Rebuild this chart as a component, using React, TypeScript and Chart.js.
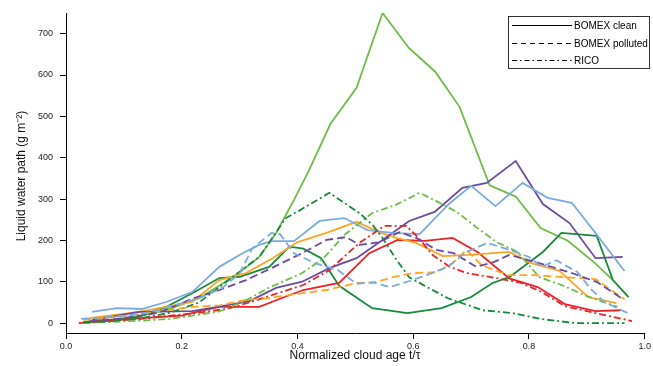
import React, { useEffect, useRef } from "react";
import { Chart, registerables } from "chart.js";

Chart.register(...registerables);

// ---- Data (t = normalized cloud age, v = liquid water path g m^-2) ----
// BOMEX clean (solid)
const T_CLEAN_LGREEN = [0.03, 0.08, 0.13, 0.18, 0.23, 0.27, 0.30, 0.334, 0.363, 0.394, 0.42, 0.457, 0.502, 0.547, 0.592, 0.638, 0.68, 0.732, 0.777, 0.82, 0.867, 0.914, 0.945];
const V_CLEAN_LGREEN = [3, 8, 18, 35, 60, 95, 123, 160, 218, 298, 370, 482, 569, 750, 666, 608, 523, 333, 306, 230, 199, 145, 104];
const T_CLEAN_PURPLE = [0.045, 0.126, 0.218, 0.265, 0.317, 0.363, 0.408, 0.455, 0.502, 0.547, 0.593, 0.637, 0.685, 0.727, 0.777, 0.824, 0.87, 0.915, 0.962];
const V_CLEAN_PURPLE = [7, 27, 29, 40, 53, 85, 100, 133, 157, 201, 247, 269, 327, 339, 392, 288, 242, 157, 160];
const T_CLEAN_LBLUE = [0.045, 0.088, 0.131, 0.173, 0.218, 0.265, 0.305, 0.334, 0.355, 0.394, 0.438, 0.481, 0.521, 0.564, 0.611, 0.663, 0.70, 0.742, 0.789, 0.832, 0.874, 0.912, 0.965];
const V_CLEAN_LBLUE = [27, 36, 34, 51, 75, 136, 169, 189, 198, 198, 247, 254, 225, 218, 215, 290, 332, 283, 339, 303, 291, 223, 126];
const T_CLEAN_DGREEN = [0.03, 0.08, 0.126, 0.173, 0.218, 0.265, 0.30, 0.351, 0.386, 0.41, 0.441, 0.472, 0.529, 0.59, 0.649, 0.70, 0.737, 0.766, 0.824, 0.856, 0.917, 0.945, 0.972];
const V_CLEAN_DGREEN = [2, 8, 15, 39, 72, 109, 112, 136, 185, 180, 157, 90, 36, 24, 36, 63, 97, 111, 172, 218, 211, 104, 63];
const T_CLEAN_ORANGE = [0.04, 0.126, 0.218, 0.265, 0.311, 0.357, 0.40, 0.45, 0.502, 0.541, 0.571, 0.605, 0.651, 0.697, 0.766, 0.804, 0.853, 0.902, 0.951];
const V_CLEAN_ORANGE = [12, 27, 51, 104, 121, 157, 196, 218, 245, 220, 206, 194, 162, 165, 172, 145, 126, 63, 48];
const T_CLEAN_RED = [0.03, 0.08, 0.13, 0.2, 0.235, 0.265, 0.334, 0.372, 0.41, 0.472, 0.524, 0.573, 0.62, 0.668, 0.711, 0.766, 0.815, 0.862, 0.915, 0.958];
const V_CLEAN_RED = [1, 6, 12, 18, 30, 39, 39, 60, 80, 97, 169, 201, 199, 206, 172, 108, 87, 46, 29, 31];

// BOMEX polluted (dashed)
const T_POLL_LBLUE = [0.026, 0.08, 0.13, 0.18, 0.23, 0.27, 0.30, 0.322, 0.355, 0.37, 0.394, 0.43, 0.47, 0.502, 0.53, 0.559, 0.59, 0.623, 0.66, 0.692, 0.728, 0.766, 0.80, 0.822, 0.847, 0.884, 0.905, 0.93, 0.971];
const V_POLL_LBLUE = [10, 15, 22, 40, 60, 85, 120, 181, 218, 215, 169, 145, 128, 95, 99, 87, 100, 116, 136, 172, 194, 177, 160, 136, 152, 123, 85, 51, 24];
const T_POLL_PURPLE = [0.04, 0.1, 0.16, 0.22, 0.265, 0.311, 0.355, 0.408, 0.45, 0.484, 0.507, 0.54, 0.576, 0.605, 0.64, 0.67, 0.709, 0.74, 0.766, 0.81, 0.87, 0.918, 0.962];
const V_POLL_PURPLE = [4, 12, 25, 60, 80, 104, 133, 169, 201, 208, 189, 195, 220, 206, 177, 169, 136, 148, 165, 148, 123, 99, 58];
const T_POLL_ORANGE = [0.03, 0.08, 0.13, 0.18, 0.218, 0.265, 0.311, 0.35, 0.386, 0.45, 0.472, 0.502, 0.53, 0.564, 0.6, 0.64, 0.668, 0.692, 0.718, 0.763, 0.81, 0.86, 0.915, 0.965];
const V_POLL_ORANGE = [8, 14, 22, 32, 39, 43, 56, 60, 68, 80, 87, 97, 97, 111, 121, 123, 145, 177, 140, 116, 116, 111, 106, 58];

// RICO (dash-dot)
const T_RICO_DGREEN = [0.03, 0.08, 0.13, 0.18, 0.23, 0.265, 0.311, 0.334, 0.38, 0.403, 0.455, 0.507, 0.53, 0.547, 0.571, 0.593, 0.62, 0.66, 0.72, 0.772, 0.82, 0.88, 0.965];
const V_RICO_DGREEN = [1, 5, 12, 25, 50, 87, 136, 160, 254, 272, 315, 266, 237, 206, 153, 111, 90, 60, 31, 24, 10, 0, 0];
const T_RICO_LGREEN = [0.03, 0.08, 0.13, 0.18, 0.218, 0.265, 0.311, 0.35, 0.408, 0.445, 0.481, 0.529, 0.57, 0.611, 0.64, 0.675, 0.709, 0.744, 0.78, 0.818, 0.86, 0.9, 0.953];
const V_RICO_LGREEN = [0, 3, 6, 10, 18, 28, 55, 85, 121, 157, 213, 266, 286, 315, 295, 269, 232, 196, 172, 111, 90, 65, 39];
const T_RICO_RED = [0.022, 0.08, 0.13, 0.18, 0.23, 0.28, 0.317, 0.372, 0.41, 0.455, 0.507, 0.55, 0.588, 0.61, 0.633, 0.663, 0.692, 0.739, 0.785, 0.822, 0.862, 0.915, 0.978];
const V_RICO_RED = [0, 5, 10, 18, 25, 35, 50, 75, 92, 128, 194, 235, 235, 205, 165, 136, 121, 110, 98, 75, 41, 24, 5];

const X_TICKS = [0, 0.2, 0.4, 0.6, 0.8, 1.0];
const Y_TICKS = [0, 100, 200, 300, 400, 500, 600, 700];
const LEGEND_LABELS = ["BOMEX clean", "BOMEX polluted", "RICO"];

const C_LGREEN = "#6cbd45";
const C_DGREEN = "#17893b";
const C_LBLUE = "#7aabde";
const C_PURPLE = "#6a4b9e";
const C_ORANGE = "#fca524";
const C_RED = "#ec2227";

const DASH_SOLID: number[] = [];
const DASH_DASHED = [8, 4];
const DASH_DOTDASH = [7, 3, 2, 3];

const FONT = "'Liberation Sans', Arial, sans-serif";

function zip(t: number[], v: number[]) {
  return t.map((x, i) => ({ x, y: v[i] }));
}

function ds(t: number[], v: number[], color: string, dash: number[]) {
  return {
    data: zip(t, v),
    borderColor: color,
    backgroundColor: color,
    borderWidth: 1.8,
    borderDash: dash,
    pointRadius: 0,
    fill: false,
    tension: 0,
  };
}

const overlayPlugin = {
  id: "overlay",
  afterDraw(chart: any) {
    const ctx = chart.ctx;
    ctx.save();
    // axis titles
    ctx.fillStyle = "#111";
    ctx.font = `12px ${FONT}`;
    ctx.textAlign = "center";
    ctx.textBaseline = "middle";
    ctx.fillText("Normalized cloud age t/\u03c4", 355, 356);
    ctx.save();
    ctx.translate(22, 176);
    ctx.rotate(-Math.PI / 2);
    ctx.fillText("Liquid water path (g m\u207b\u00b2)", 0, 0);
    ctx.restore();

    // legend
    const bx = 508, by = 16, bw = 142, bh = 53;
    ctx.fillStyle = "#fff";
    ctx.fillRect(bx, by, bw, bh);
    ctx.strokeStyle = "#000";
    ctx.lineWidth = 0.8;
    ctx.strokeRect(bx + 0.5, by + 0.5, bw - 1, bh - 1);
    const dashes = [DASH_SOLID, [5, 4], [5, 3, 1.5, 3]];
    const rows = [25, 43, 60];
    for (let i = 0; i < 3; i++) {
      ctx.beginPath();
      ctx.setLineDash(dashes[i]);
      ctx.lineWidth = 1;
      ctx.strokeStyle = "#000";
      ctx.moveTo(512, rows[i] + 0.5);
      ctx.lineTo(572, rows[i] + 0.5);
      ctx.stroke();
      ctx.setLineDash([]);
      ctx.fillStyle = "#000";
      ctx.font = `10px ${FONT}`;
      ctx.textAlign = "left";
      ctx.textBaseline = "middle";
      ctx.fillText(LEGEND_LABELS[i], 574, rows[i] + 1);
    }
    ctx.restore();
  },
};

export default function App() {
  const ref = useRef<HTMLCanvasElement | null>(null);
  useEffect(() => {
    if (!ref.current) return;
    const chart = new Chart(ref.current, {
      type: "line",
      data: {
        datasets: [
          ds(T_POLL_LBLUE, V_POLL_LBLUE, C_LBLUE, DASH_DASHED),
          ds(T_POLL_PURPLE, V_POLL_PURPLE, C_PURPLE, DASH_DASHED),
          ds(T_POLL_ORANGE, V_POLL_ORANGE, C_ORANGE, DASH_DASHED),
          ds(T_RICO_DGREEN, V_RICO_DGREEN, C_DGREEN, DASH_DOTDASH),
          ds(T_RICO_LGREEN, V_RICO_LGREEN, C_LGREEN, DASH_DOTDASH),
          ds(T_RICO_RED, V_RICO_RED, C_RED, DASH_DOTDASH),
          ds(T_CLEAN_LBLUE, V_CLEAN_LBLUE, C_LBLUE, DASH_SOLID),
          ds(T_CLEAN_PURPLE, V_CLEAN_PURPLE, C_PURPLE, DASH_SOLID),
          ds(T_CLEAN_ORANGE, V_CLEAN_ORANGE, C_ORANGE, DASH_SOLID),
          ds(T_CLEAN_RED, V_CLEAN_RED, C_RED, DASH_SOLID),
          ds(T_CLEAN_DGREEN, V_CLEAN_DGREEN, C_DGREEN, DASH_SOLID),
          ds(T_CLEAN_LGREEN, V_CLEAN_LGREEN, C_LGREEN, DASH_SOLID),
        ] as any,
      },
      options: {
        responsive: false,
        animation: false,
        devicePixelRatio: 1,
        layout: { padding: { top: 13, right: 8, left: 0, bottom: 0 } },
        plugins: { legend: { display: false }, tooltip: { enabled: false } },
        elements: { point: { radius: 0 } },
        scales: {
          x: {
            type: "linear",
            min: 0,
            max: 1.0,
            afterBuildTicks: (s: any) => {
              s.ticks = X_TICKS.map((value) => ({ value }));
            },
            afterFit: (s: any) => {
              s.height = 33;
            },
            grid: {
              display: true,
              drawOnChartArea: false,
              drawTicks: true,
              tickLength: 6,
              color: "#000",
            },
            border: { display: true, color: "#000", width: 1 },
            ticks: {
              color: "#222",
              font: { family: FONT, size: 9 },
              padding: 2,
              maxRotation: 0,
              callback: (v: any) => Number(v).toFixed(1),
            },
          },
          y: {
            type: "linear",
            min: -24,
            max: 750,
            afterBuildTicks: (s: any) => {
              s.ticks = Y_TICKS.map((value) => ({ value }));
            },
            afterFit: (s: any) => {
              s.width = 66;
            },
            grid: {
              display: true,
              drawOnChartArea: false,
              drawTicks: true,
              tickLength: 6,
              color: "#000",
            },
            border: { display: true, color: "#000", width: 1 },
            ticks: {
              color: "#222",
              font: { family: FONT, size: 9 },
              padding: 7,
              callback: (v: any) => String(v),
            },
          },
        },
      },
      plugins: [overlayPlugin],
    });
    return () => chart.destroy();
  }, []);
  return (
    <div style={{ position: "fixed", left: 0, top: 0, width: 653, height: 366, background: "#fff" }}>
      <canvas ref={ref} width={653} height={366} />
    </div>
  );
}
